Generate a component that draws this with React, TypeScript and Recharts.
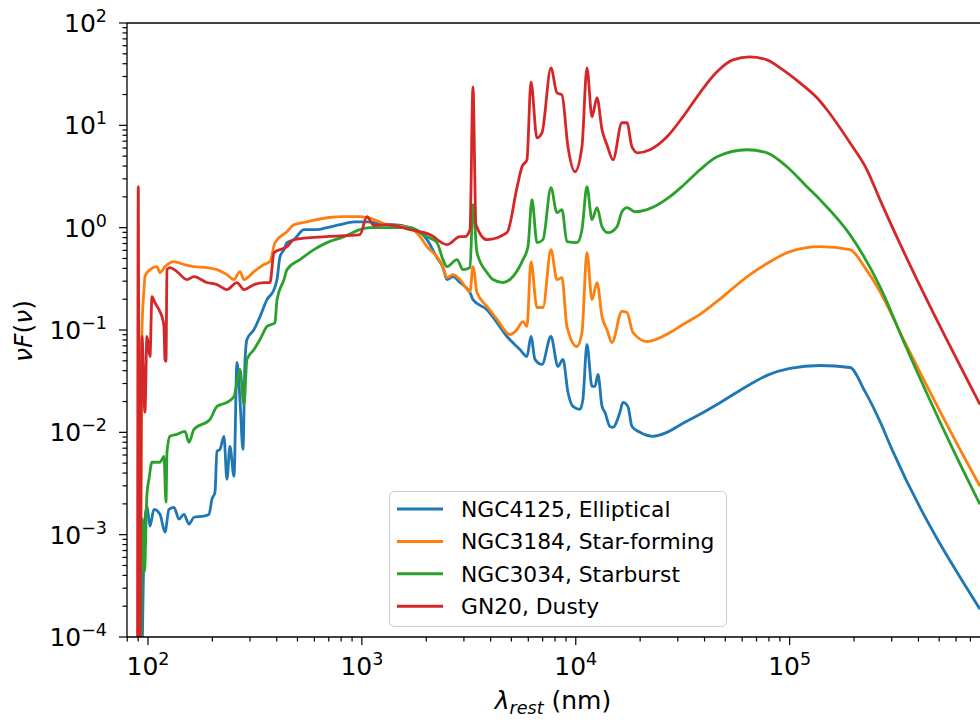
import { Legend, Line, LineChart, ReferenceLine, XAxis, YAxis } from "recharts";

// [wavelength (nm), nuFnu]; 1e-5 marks a dip below the axis
const elliptical: [number, number][] = [
  [92.8, 1e-5], [96.8, 0.00142], [98.9, 0.0019], [102.2, 0.00121], [106.7, 0.00177],
  [113.8, 0.00158], [120.1, 0.00106], [125.4, 0.00177], [132.3, 0.00185], [139.6, 0.00142],
  [147.4, 0.00158], [155.5, 0.00127], [164.1, 0.00148], [182.7, 0.00152], [192.8, 0.00158],
  [199.2, 0.00222], [205.7, 0.0026], [210.2, 0.00653], [217.1, 0.00682], [226.6, 0.00914],
  [234.0, 0.00348], [241.7, 0.0073], [252.4, 0.00372], [260.7, 0.0482], [269.2, 0.021],
  [278.1, 0.00682], [284.1, 0.0482], [290.3, 0.0808], [313.1, 0.101], [334.0, 0.135],
  [360.1, 0.198], [388.3, 0.248], [401.1, 0.311], [414.2, 0.521], [432.4, 0.61],
  [446.6, 0.714], [481.6, 0.764], [536.3, 0.956], [616.7, 0.956], [686.8, 1.0],
  [790.1, 1.07], [918.6, 1.14], [1056, 1.14], [1310, 1.07], [1398, 1.07], [1679, 1.0],
  [2016, 0.764], [2244, 0.51], [2394, 0.407], [2500, 0.311], [2667, 0.333], [2875, 0.291],
  [3203, 0.232], [3307, 0.198], [3845, 0.158], [4283, 0.118], [4769, 0.0864], [5484, 0.0645],
  [5914, 0.0551], [6174, 0.0864], [6447, 0.0516], [6951, 0.0461], [7656, 0.0864],
  [8255, 0.044], [8712, 0.0516], [9194, 0.0246], [9703, 0.0179], [10460, 0.0168],
  [10800, 0.021], [11280, 0.0722], [11910, 0.0281], [12290, 0.0281], [12700, 0.0368],
  [13270, 0.0179], [13690, 0.0157], [14450, 0.0114], [14930, 0.0112], [16090, 0.0157],
  [16620, 0.0196], [17540, 0.0179], [18310, 0.0114], [19960, 0.01], [22960, 0.00914],
  [26700, 0.01], [31700, 0.01224], [38080, 0.015], [45730, 0.0187], [65220, 0.0294],
  [78330, 0.036], [100300, 0.0421], [138600, 0.045], [191400, 0.043], [224900, 0.0251],
  [264300, 0.0128], [300800, 0.00682], [776000, 0.000187],
];

const starForming: [number, number][] = [
  [91.8, 1e-5], [93.7, 0.0945], [95.8, 0.248], [96.8, 0.333], [102.2, 0.389], [110.2, 0.416],
  [113.8, 0.364], [120.1, 0.416], [132.3, 0.466], [147.4, 0.436], [164.1, 0.416],
  [188.7, 0.407], [210.2, 0.389], [234.0, 0.348], [252.4, 0.311], [269.2, 0.372],
  [281.1, 0.311], [313.1, 0.372], [348.7, 0.436], [371.9, 0.466], [392.5, 0.714],
  [446.6, 0.914], [481.6, 1.07], [553.9, 1.14], [686.8, 1.25], [824.8, 1.28], [979.7, 1.28],
  [1139, 1.2], [1310, 1.07], [1679, 1.0], [1870, 0.817], [2016, 0.652], [2244, 0.521],
  [2394, 0.416], [2500, 0.325], [2667, 0.348], [2875, 0.311], [3203, 0.237], [3307, 0.416],
  [3453, 0.232], [3845, 0.17], [4283, 0.127], [4925, 0.0904], [5311, 0.101], [5665, 0.121],
  [5914, 0.108], [6174, 0.466], [6587, 0.166], [7026, 0.166], [7656, 0.61], [8167, 0.311],
  [8618, 0.325], [9095, 0.108], [10130, 0.069], [10690, 0.0945], [11280, 0.57],
  [11910, 0.198], [12570, 0.291], [13270, 0.135], [13990, 0.101], [14760, 0.0755],
  [16440, 0.152], [17350, 0.148], [18510, 0.0945], [21520, 0.0772], [27570, 0.0945],
  [31700, 0.1132], [38080, 0.142], [45730, 0.19], [65220, 0.348], [78330, 0.446],
  [100300, 0.583], [138600, 0.652], [191400, 0.61], [224900, 0.407], [264300, 0.237],
  [346000, 0.0755], [625400, 0.00682], [776000, 0.00297],
];

const starburst: [number, number][] = [
  [92.2, 1e-5], [94.2, 0.00142], [96.3, 0.00044], [98.9, 0.00248], [101.1, 0.00348],
  [104.4, 0.0051], [113.8, 0.0051], [118.8, 0.00583], [121.4, 0.00208], [122.7, 0.00638],
  [126.7, 0.00914], [136.6, 0.00956], [148.9, 0.0102], [155.5, 0.00799], [164.1, 0.0107],
  [195.0, 0.0134], [210.2, 0.0179], [234.0, 0.0196], [252.4, 0.0224], [260.7, 0.0307],
  [269.2, 0.0412], [281.1, 0.0187], [290.3, 0.0516], [313.1, 0.0645], [334.0, 0.0808],
  [360.1, 0.108], [392.5, 0.118], [401.1, 0.198], [432.4, 0.311], [446.6, 0.389],
  [513.6, 0.487], [597.1, 0.61], [686.8, 0.714], [824.8, 0.817], [979.7, 0.956],
  [1091, 1.0], [1310, 1.0], [1679, 1.0], [2016, 0.817], [2244, 0.714], [2394, 0.487],
  [2500, 0.416], [2784, 0.487], [2970, 0.389], [3203, 0.407], [3307, 1.68], [3453, 0.57],
  [3845, 0.364], [4103, 0.311], [4567, 0.291], [5087, 0.333], [5665, 0.487], [5978, 0.652],
  [6241, 1.88], [6587, 0.714], [7026, 0.764], [7656, 2.46], [8167, 1.4], [8618, 1.5],
  [9095, 0.73], [10130, 0.714], [10690, 0.956], [11280, 2.51], [11910, 1.2], [12570, 1.57],
  [13270, 1.02], [14140, 0.894], [15580, 1.02], [16440, 1.43], [17350, 1.57], [18910, 1.43],
  [21520, 1.5], [27570, 2.01], [31700, 2.57], [38080, 3.68], [45730, 4.93], [63150, 5.77],
  [78330, 5.39], [97140, 3.94], [120500, 2.51], [138600, 1.88], [191400, 0.855],
  [264300, 0.266], [346000, 0.0722], [580000, 0.00682], [776000, 0.00198],
];

const dusty: [number, number][] = [
  [89.3, 1e-5], [90.1, 2.51], [91.1, 1e-5], [93.7, 0.0864], [96.8, 0.0157], [98.9, 0.0864],
  [102.2, 0.0551], [104.4, 0.212], [107.8, 0.185], [112.6, 0.158], [116.3, 0.135],
  [118.8, 0.108], [120.1, 0.0516], [121.4, 0.0493], [122.7, 0.389], [126.7, 0.407],
  [136.6, 0.372], [152.2, 0.311], [164.1, 0.333], [188.7, 0.291], [210.2, 0.278],
  [234.0, 0.248], [260.7, 0.291], [281.1, 0.248], [313.1, 0.278], [348.7, 0.291],
  [371.9, 0.291], [388.3, 0.57], [446.6, 0.652], [481.6, 0.764], [686.8, 0.817],
  [979.7, 0.855], [1056, 1.28], [1139, 1.05], [1310, 1.07], [1679, 0.956], [2082, 0.855],
  [2500, 0.682], [2875, 0.817], [3034, 0.817], [3203, 0.956], [3307, 23.7], [3415, 1.07],
  [3845, 0.764], [4769, 0.894], [5311, 2.46], [5604, 3.94], [5914, 4.61], [6174, 26.6],
  [6587, 7.55], [6951, 8.45], [7656, 36.4], [8167, 20.8], [8618, 19.8], [9194, 6.17],
  [9913, 3.52], [10690, 6.17], [11280, 36.4], [11910, 12.1], [12570, 18.6], [13270, 9.04],
  [13990, 6.45], [14930, 4.61], [16440, 10.6], [17350, 10.6], [18310, 6.17], [19530, 5.39],
  [22230, 5.77], [26700, 7.72], [31700, 12.1], [38080, 20.8], [45730, 33.3], [54310, 43.6],
  [65220, 46.6], [78330, 43.6], [93050, 34.8], [111700, 26.0], [134200, 18.6],
  [149400, 14.2], [191400, 6.75], [229800, 3.68], [264300, 1.88], [776000, 0.0187],
];

const seriesNames = [
  "NGC4125, Elliptical",
  "NGC3184, Star-forming",
  "NGC3034, Starburst",
  "GN20, Dusty",
];
const seriesColors = ["#1f77b4", "#ff7f0e", "#2ca02c", "#d62728"];
const seriesData = [elliptical, starForming, starburst, dusty];

const xMajorTicks = [100, 1000, 10000, 100000];
const yMajorTicks = [1e-4, 1e-3, 1e-2, 1e-1, 1, 10, 100];
const minorSteps = [2, 3, 4, 5, 6, 7, 8, 9];

const X_DOMAIN: [number, number] = [79.8, 776000];
const Y_DOMAIN: [number, number] = [1e-4, 100];
const FONT = "DejaVu Sans";

const withMinors = (majors: number[], lo: number, hi: number) => {
  const out: number[] = [];
  [majors[0] / 10, ...majors].forEach((m) => {
    if (m >= lo && m <= hi) out.push(m);
    minorSteps.forEach((s) => {
      const v = m * s;
      if (v >= lo && v <= hi) out.push(v);
    });
  });
  return out.sort((a, b) => a - b);
};

const xTicks = withMinors(xMajorTicks, X_DOMAIN[0], X_DOMAIN[1]);
const yTicks = withMinors(yMajorTicks, Y_DOMAIN[0], Y_DOMAIN[1]);

const isMajor = (v: number) => {
  const l = Math.log10(v);
  return Math.abs(l - Math.round(l)) < 1e-6;
};
const expText = (v: number) => {
  const e = Math.round(Math.log10(v));
  return e < 0 ? "\u2212" + Math.abs(e) : String(e);
};

function YTick(props: any) {
  const { x, y, payload } = props;
  const major = isMajor(payload.value);
  return (
    <g>
      <line x1={x - (major ? 8 : 4.5)} x2={x} y1={y} y2={y} stroke="#000" strokeWidth={1.2} />
      {major && (
        <text x={x - 20} y={y + 9} textAnchor="end" fontSize={25} fontFamily={FONT} fill="#000">
          <tspan>10</tspan>
          <tspan dy={-10} fontSize={17.5}>
            {expText(payload.value)}
          </tspan>
        </text>
      )}
    </g>
  );
}

function XTick(props: any) {
  const { x, y, payload } = props;
  const major = isMajor(payload.value);
  return (
    <g>
      <line x1={x} x2={x} y1={y} y2={y + (major ? 8 : 4.5)} stroke="#000" strokeWidth={1.2} />
      {major && (
        <text x={x} y={y + 38} textAnchor="middle" fontSize={25} fontFamily={FONT} fill="#000">
          <tspan>10</tspan>
          <tspan dy={-10} fontSize={17.5}>
            {expText(payload.value)}
          </tspan>
        </text>
      )}
    </g>
  );
}

function LegendBox() {
  return (
    <svg width={338} height={136} style={{ display: "block" }}>
      <rect
        x={0.5}
        y={0.5}
        width={337}
        height={135}
        rx={5}
        fill="#fff"
        fillOpacity={0.8}
        stroke="#cccccc"
        strokeWidth={1}
      />
      {seriesNames.map((name, i) => {
        const cy = 18 + i * 32.4;
        return (
          <g key={name}>
            <line x1={8} x2={54} y1={cy} y2={cy} stroke={seriesColors[i]} strokeWidth={3} />
            <text x={72} y={cy + 8} fontSize={21.8} fontFamily={FONT} fill="#000">
              {name}
            </text>
          </g>
        );
      })}
    </svg>
  );
}

export default function App() {
  return (
    <div style={{ position: "absolute", left: 0, top: 0, width: 980, height: 720, background: "#fff" }}>
      <LineChart width={980} height={720} margin={{ top: 23, right: 0, bottom: 0, left: 0 }}>
        <XAxis
          type="number"
          dataKey="x"
          scale="log"
          domain={X_DOMAIN}
          allowDataOverflow
          ticks={xTicks}
          interval={0}
          height={83}
          tickSize={0}
          tickMargin={0}
          tickLine={false}
          tick={<XTick />}
          axisLine={{ stroke: "#000", strokeWidth: 1.3 }}
          label={{
            content: () => (
              <text x={553} y={709} textAnchor="middle" fontSize={25} fontFamily={FONT} fill="#000">
                <tspan fontStyle="italic">λ</tspan>
                <tspan fontStyle="italic" fontSize={17.5} dy={5}>
                  rest
                </tspan>
                <tspan dy={-5}> (nm)</tspan>
              </text>
            ),
          }}
        />
        <YAxis
          type="number"
          scale="log"
          domain={Y_DOMAIN}
          allowDataOverflow
          ticks={yTicks}
          interval={0}
          width={127}
          tickSize={0}
          tickMargin={0}
          tickLine={false}
          tick={<YTick />}
          axisLine={{ stroke: "#000", strokeWidth: 1.3 }}
          label={{
            content: () => (
              <text
                x={32}
                y={331}
                transform="rotate(-90 32 331)"
                textAnchor="middle"
                fontSize={25}
                fontFamily={FONT}
                fill="#000"
              >
                <tspan fontStyle="italic">νF</tspan>
                <tspan>(</tspan>
                <tspan fontStyle="italic">ν</tspan>
                <tspan>)</tspan>
              </text>
            ),
          }}
        />
        <ReferenceLine y={100} stroke="#000" strokeWidth={1.3} />
        {seriesData.map((pts, i) => (
          <Line
            key={seriesNames[i]}
            name={seriesNames[i]}
            data={pts.map(([x, y]) => ({ x, y }))}
            dataKey="y"
            type="monotoneX"
            stroke={seriesColors[i]}
            strokeWidth={2.8}
            strokeLinejoin="round"
            dot={false}
            activeDot={false}
            isAnimationActive={false}
          />
        ))}
        <Legend
          layout="horizontal"
          verticalAlign="middle"
          align="center"
          wrapperStyle={{ left: 389, top: 491, width: 338, height: 136 }}
          content={() => <LegendBox />}
        />
      </LineChart>
    </div>
  );
}
